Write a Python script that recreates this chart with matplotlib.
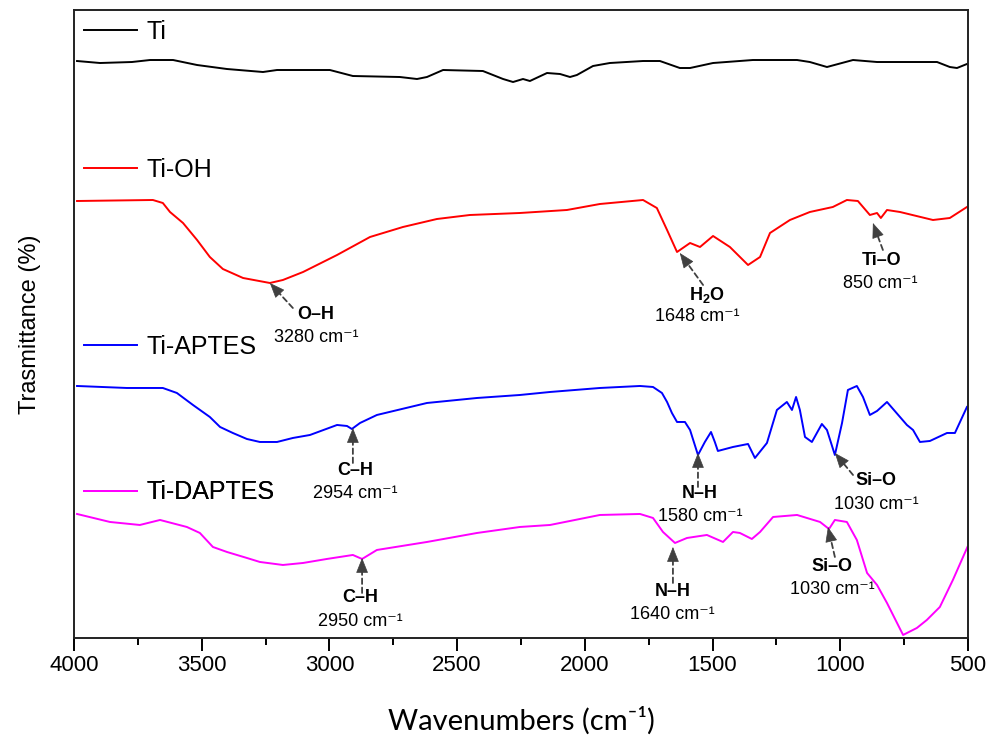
import numpy as np
import matplotlib
matplotlib.use('Agg')
import matplotlib.pyplot as plt
from matplotlib.ticker import MultipleLocator

plt.rcParams['font.family'] = ['Liberation Sans', 'DejaVu Sans']
plt.rcParams['mathtext.fontset'] = 'custom'
plt.rcParams['mathtext.rm'] = 'Liberation Sans'
plt.rcParams['mathtext.bf'] = 'Liberation Sans:bold'

# spectra (wavenumber, offset transmittance in arb. units)
ti_wn = [3988, 3898, 3773, 3702, 3612, 3518, 3401, 3260, 3205, 2998, 2908, 2724, 2657,
         2618, 2555, 2399, 2320, 2281, 2242, 2215, 2148, 2097, 2058, 2031, 1968, 1902,
         1772, 1706, 1628, 1588, 1498, 1342, 1169, 1119, 1052, 950, 856, 754, 621, 571,
         543, 504]
ti_t = [577, 575, 576, 578, 578, 573, 569, 566, 568, 568, 562, 561, 559,
        561, 568, 567, 559, 556, 559, 557, 565, 564, 561, 563, 572, 575,
        577, 577, 570, 570, 575, 578, 578, 576, 571, 578, 576, 576, 576, 571,
        570, 574]

tioh_wn = [3988, 3691, 3652, 3624, 3573, 3518, 3468, 3417, 3338, 3233, 3182, 3103, 2970,
           2841, 2712, 2579, 2450, 2254, 2070, 1941, 1772, 1718, 1678, 1639, 1588, 1549,
           1498, 1432, 1361, 1314, 1275, 1197, 1119, 1029, 974, 931, 884, 856, 841, 817,
           766, 637, 571, 504]
tioh_t = [437, 438, 435, 426, 415, 398, 381, 369, 360, 355, 358, 366, 383,
          401, 411, 419, 423, 425, 428, 434, 438, 430, 408, 386, 395, 391,
          402, 391, 373, 381, 405, 418, 426, 431, 438, 437, 423, 425, 420, 428,
          426, 418, 420, 431]

aptes_wn = [3988, 3793, 3652, 3597, 3534, 3468, 3428, 3378, 3323, 3272, 3205, 3143, 3076,
            2970, 2931, 2912, 2880, 2814, 2618, 2422, 2254, 2136, 1941, 1784, 1733, 1698,
            1678, 1659, 1639, 1608, 1588, 1557, 1530, 1506, 1491, 1479, 1420, 1361, 1334,
            1287, 1248, 1209, 1189, 1173, 1158, 1138, 1111, 1072, 1052, 1021, 993, 970,
            935, 911, 884, 856, 817, 739, 715, 688, 649, 582, 551, 504]
aptes_t = [252, 250, 250, 245, 233, 221, 211, 205, 199, 196, 196, 200, 203,
           213, 212, 209, 215, 223, 235, 240, 243, 246, 250, 252, 251, 245,
           236, 225, 216, 216, 208, 183, 196, 206, 196, 187, 191, 194, 180,
           195, 228, 236, 228, 241, 228, 201, 196, 214, 208, 183, 215, 248,
           252, 241, 223, 227, 236, 213, 208, 196, 197, 205, 205, 231]

daptes_wn = [3988, 3859, 3742, 3663, 3558, 3507, 3456, 3401, 3323, 3272, 3182, 3103, 3010,
             2908, 2872, 2814, 2618, 2422, 2254, 2136, 1941, 1784, 1733, 1694, 1647, 1600,
             1522, 1459, 1420, 1393, 1346, 1314, 1263, 1169, 1079, 1044, 1021, 974, 935,
             895, 856, 817, 754, 700, 661, 610, 559, 502]
daptes_t = [124, 116, 113, 118, 111, 105, 91, 86, 80, 76, 73, 75, 79,
            83, 79, 88, 96, 105, 111, 113, 123, 124, 120, 106, 95, 100,
            103, 96, 106, 105, 99, 106, 121, 123, 116, 109, 118, 116, 98,
            65, 53, 35, 3, 10, 18, 31, 58, 91]

names = ['Ti', 'Ti-OH', 'Ti-APTES', 'Ti-DAPTES']
colors = ['black', '#ff0000', '#0000ff', '#ff00ff']
legend_y = [0.965, 0.745, 0.463, 0.232]

# band label, position text, arrow tip, arrow tail, label centre, position-text centre
bands = [
    ('O–H', '3280 cm⁻¹', (3233, 355), (3143, 330), (3053, 323), (3053, 300)),
    (r'$\mathbf{H_2O}$', '1648 cm⁻¹', (1628, 385), (1537, 353), (1522, 343), (1561, 321)),
    ('Ti–O', '850 cm⁻¹', (872, 415), (833, 388), (837, 377), (845, 354)),
    ('C–H', '2954 cm⁻¹', (2908, 210), (2908, 175), (2900, 167), (2900, 144)),
    ('N–H', '1580 cm⁻¹', (1557, 185), (1557, 151), (1549, 144), (1549, 121)),
    ('Si–O', '1030 cm⁻¹', (1021, 185), (950, 163), (860, 157), (860, 133)),
    ('C–H', '2950 cm⁻¹', (2872, 80), (2872, 45), (2880, 40), (2880, 16)),
    ('N–H', '1640 cm⁻¹', (1655, 91), (1655, 55), (1655, 46), (1659, 23)),
    ('Si–O', '1030 cm⁻¹', (1048, 111), (1021, 81), (1032, 71), (1032, 48)),
]

fig = plt.figure(figsize=(9.98, 7.36), dpi=100)
ax = fig.add_axes([0.0741, 0.1332, 0.8958, 0.8532])

spectra = [(ti_wn, ti_t), (tioh_wn, tioh_t), (aptes_wn, aptes_t), (daptes_wn, daptes_t)]
for (wn, t), name, c, ly in zip(spectra, names, colors, legend_y):
    line, = ax.plot(wn, t, color=c, lw=1.4, label=name)
    leg = ax.legend(handles=[line], loc='center left', bbox_to_anchor=(-0.005, ly),
                    frameon=False, fontsize=18, handlelength=2.1, handletextpad=0.4,
                    borderaxespad=0.2)
    ax.add_artist(leg)

ax.set_xlim(4000, 500)
ax.set_ylim(0, 628)

arrow_col = '#404040'
head_px = 14
for lab, pos, tip, tail, lxy, pxy in bands:
    # split the arrow into a dashed shaft and a solid head
    p_tip = ax.transData.transform(tip)
    p_tail = ax.transData.transform(tail)
    d = p_tip - p_tail
    d = d / np.hypot(*d)
    base = ax.transData.inverted().transform(p_tip - d * head_px)
    ax.annotate('', xy=base, xytext=tail,
                arrowprops=dict(arrowstyle='-', color=arrow_col, lw=1.3,
                                linestyle=(0, (3, 2)), shrinkA=0, shrinkB=0))
    ax.annotate('', xy=tip, xytext=base,
                arrowprops=dict(arrowstyle='-|>,head_length=0.75,head_width=0.3',
                                color=arrow_col, lw=0.5, mutation_scale=13,
                                shrinkA=0, shrinkB=0))
    ax.text(lxy[0], lxy[1], lab, ha='center', va='center', fontsize=13,
            fontweight='bold', color='black')
    ax.text(pxy[0], pxy[1], pos, ha='center', va='center', fontsize=13)

ax.xaxis.set_major_locator(MultipleLocator(500))
ax.xaxis.set_minor_locator(MultipleLocator(250))
ax.tick_params(axis='x', which='major', length=9, width=1.4, labelsize=16, pad=3)
ax.tick_params(axis='x', which='minor', length=5, width=1.4)
ax.set_yticks([])
for s in ax.spines.values():
    s.set_linewidth(1.4)
    s.set_color('#222222')

ax.set_xlabel('Wavenumbers (cm⁻¹)', fontsize=21, family=['Lato', 'DejaVu Sans'], labelpad=22)
ax.set_ylabel('Trasmittance (%)', fontsize=17, labelpad=24)

fig.savefig('out.png', dpi=100)
